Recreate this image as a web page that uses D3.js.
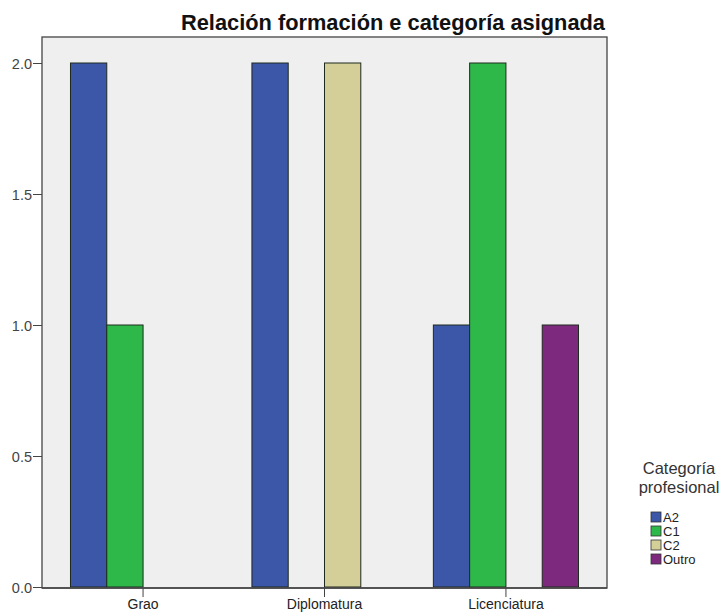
<!DOCTYPE html>
<html><head><meta charset="utf-8">
<script src="https://cdn.jsdelivr.net/npm/d3@7"></script>
<style>body{margin:0;background:#fff}svg{display:block}text{font-family:Arial,"Liberation Sans",sans-serif}</style>
</head><body>
<svg id="c" width="721" height="612"></svg>
<script>
const categories = ["Grao", "Diplomatura", "Licenciatura"];
const seriesNames = ["A2", "C1", "C2", "Outro"];
const valuesA2 = [2, 2, 1];
const valuesC1 = [1, 0, 2];
const valuesC2 = [0, 2, 0];
const valuesOutro = [0, 0, 1];
const yTicks = [0, 0.5, 1.0, 1.5, 2.0];
const colors = ["#3c56a8", "#2fb84a", "#d4cf98", "#7d2a7e"];
const title = "Relación formación e categoría asignada";
const legendTitle = ["Categoría", "profesional"];

const series = [valuesA2, valuesC1, valuesC2, valuesOutro];
const svg = d3.select("#c");
const L = 42, R = 607, T = 37, B = 588;

svg.append("rect").attr("x", L).attr("y", T).attr("width", R - L).attr("height", B - T)
  .attr("fill", "#efefef").attr("stroke", "#444").attr("stroke-width", 1.3);

const x = d3.scaleBand().domain(categories).range([L, R]).paddingInner(0.2).paddingOuter(0.157);
const xs = d3.scaleBand().domain(seriesNames).range([0, x.bandwidth()]);
const y = d3.scaleLinear().domain([0, 2]).range([587, 63]);

categories.forEach((c, i) => {
  seriesNames.forEach((s, j) => {
    const v = series[j][i];
    if (v > 0) {
      svg.append("rect")
        .attr("x", x(c) + xs(s)).attr("y", y(v))
        .attr("width", xs.bandwidth()).attr("height", y(0) - y(v))
        .attr("fill", colors[j]).attr("stroke", "#1e2a1e").attr("stroke-width", 1);
    }
  });
});

// y axis
const ya = svg.append("g").attr("transform", `translate(${L},0)`)
  .call(d3.axisLeft(y).tickValues(yTicks).tickFormat(d3.format(".1f")).tickSize(9).tickSizeOuter(0));
ya.select(".domain").remove();
ya.selectAll("line").attr("stroke", "#444");
ya.selectAll("text").attr("font-size", 14.5).attr("fill", "#444").attr("x", -10).attr("dy", "0.36em");

// x axis
const xa = svg.append("g").attr("transform", `translate(0,${B})`)
  .call(d3.axisBottom(x).tickSize(9).tickSizeOuter(0));
xa.select(".domain").remove();
xa.selectAll("line").attr("stroke", "#444");
xa.selectAll("text").attr("font-size", 14).attr("fill", "#222").attr("dy", null).attr("y", 21);

svg.append("line").attr("x1", L).attr("x2", R).attr("y1", B).attr("y2", B).attr("stroke", "#444").attr("stroke-width", 1.3);

svg.append("text").attr("x", 181).attr("y", 30).attr("text-anchor", "start")
  .attr("font-size", 21.8).attr("font-weight", "bold").attr("fill", "#111").text(title);

// legend
const lg = svg.append("g");
legendTitle.forEach((t, i) => {
  lg.append("text").attr("x", 679).attr("y", 474 + i * 18.5).attr("text-anchor", "middle")
    .attr("font-size", 16.5).attr("fill", "#333").text(t);
});
seriesNames.forEach((s, j) => {
  const cy = 517 + j * 14;
  lg.append("rect").attr("x", 651).attr("y", cy - 5).attr("width", 10).attr("height", 10)
    .attr("fill", colors[j]).attr("stroke", "#333").attr("stroke-width", 0.8);
  lg.append("text").attr("x", 663).attr("y", cy + 4.5).attr("font-size", 13).attr("fill", "#222").text(s);
});
</script>
</body></html>
